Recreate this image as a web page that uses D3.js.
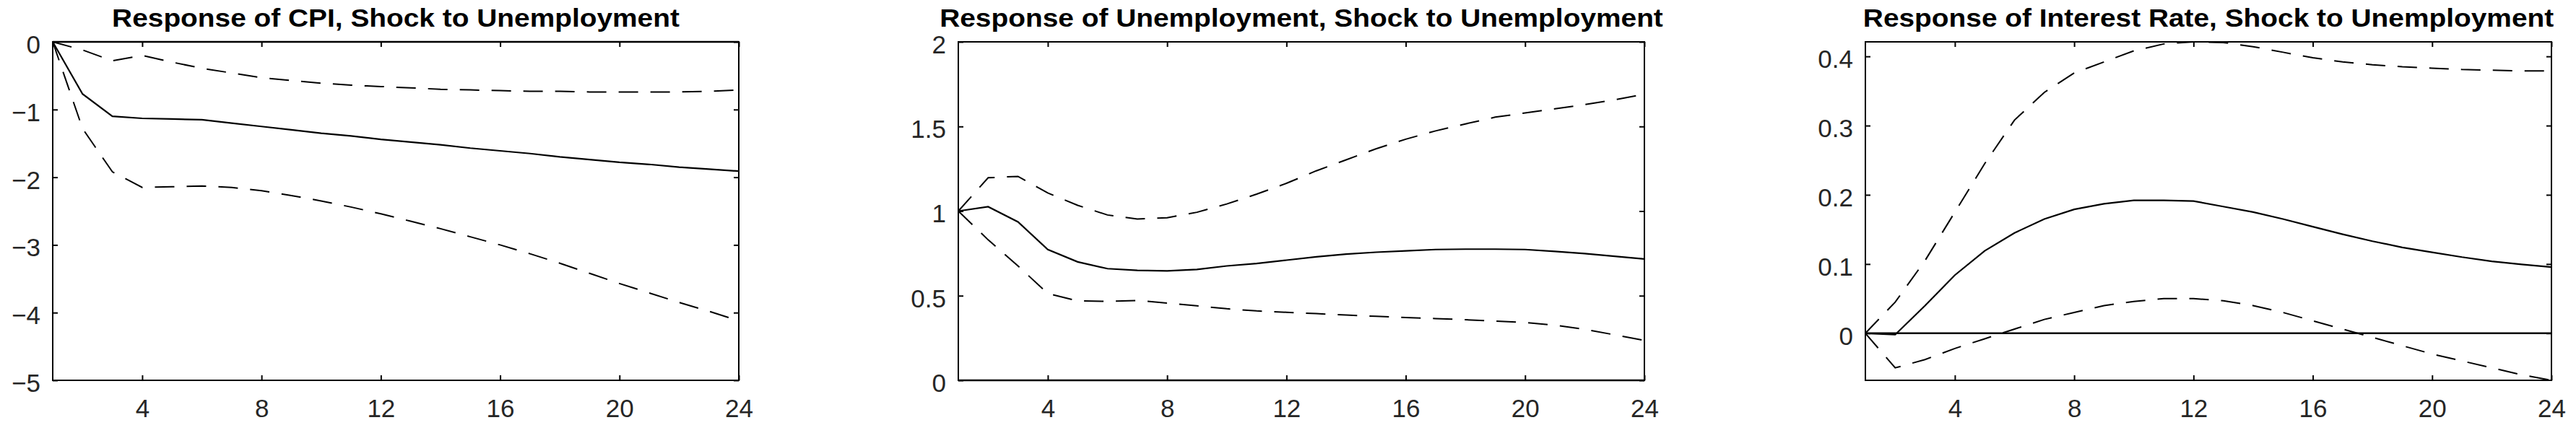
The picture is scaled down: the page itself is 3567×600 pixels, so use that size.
<!DOCTYPE html>
<html>

<head>
    <meta charset="UTF-8">
    <script src="https://d3js.org/d3.v7.min.js"></script>
    <style>
        body { margin: 0; background: #fff; }
        text { font-family: "Liberation Sans", Arial, sans-serif; }
    </style>
</head>

<body>
    <svg></svg>

    <script>
        // horizon (periods after the shock)
        const periods = [1, 2, 3, 4, 5, 6, 7, 8, 9, 10, 11, 12, 13, 14, 15, 16, 17, 18, 19, 20, 21, 22, 23, 24];
        const xTicks = [4, 8, 12, 16, 20, 24];

        const titles = [
            "Response of CPI, Shock to Unemployment",
            "Response of Unemployment, Shock to Unemployment",
            "Response of Interest Rate, Shock to Unemployment"
        ];

        // CPI response
        const cpiResp = [0, -0.77, -1.10, -1.13, -1.14, -1.15, -1.20, -1.25, -1.30, -1.35, -1.39, -1.44, -1.48, -1.52, -1.57, -1.61, -1.65, -1.70, -1.74, -1.78, -1.81, -1.85, -1.88, -1.91];
        const cpiUpper = [0, -0.12, -0.28, -0.20, -0.30, -0.39, -0.46, -0.53, -0.57, -0.61, -0.64, -0.66, -0.68, -0.70, -0.71, -0.72, -0.73, -0.73, -0.74, -0.74, -0.74, -0.74, -0.73, -0.71];
        const cpiLower = [0, -1.28, -1.92, -2.15, -2.14, -2.13, -2.15, -2.20, -2.27, -2.35, -2.44, -2.54, -2.65, -2.76, -2.88, -3.00, -3.13, -3.27, -3.42, -3.57, -3.71, -3.85, -3.98, -4.12];
        const cpiTicks = [0, -1, -2, -3, -4, -5];

        // Unemployment response
        const unResp = [1.0, 1.026, 0.936, 0.773, 0.70, 0.66, 0.65, 0.647, 0.655, 0.676, 0.69, 0.71, 0.73, 0.746, 0.757, 0.765, 0.773, 0.775, 0.775, 0.773, 0.762, 0.749, 0.733, 0.717];
        const unUpper = [1.0, 1.197, 1.205, 1.107, 1.034, 0.977, 0.953, 0.961, 0.993, 1.042, 1.10, 1.164, 1.238, 1.303, 1.368, 1.425, 1.474, 1.515, 1.555, 1.58, 1.604, 1.629, 1.658, 1.69];
        const unLower = [1.0, 0.83, 0.676, 0.513, 0.469, 0.467, 0.472, 0.456, 0.44, 0.423, 0.41, 0.402, 0.394, 0.386, 0.378, 0.371, 0.365, 0.358, 0.35, 0.342, 0.326, 0.301, 0.269, 0.236];
        const unTicks = [0, 0.5, 1, 1.5, 2];

        // Interest rate response
        const rateResp = [0, -0.002, 0.040, 0.084, 0.119, 0.145, 0.165, 0.179, 0.187, 0.192, 0.192, 0.191, 0.183, 0.175, 0.165, 0.154, 0.143, 0.133, 0.124, 0.117, 0.110, 0.104, 0.0995, 0.0955];
        const rateUpper = [0, 0.045, 0.105, 0.175, 0.245, 0.308, 0.348, 0.376, 0.392, 0.408, 0.418, 0.421, 0.420, 0.414, 0.406, 0.398, 0.392, 0.388, 0.385, 0.383, 0.381, 0.380, 0.379, 0.379];
        const rateLower = [0, -0.050, -0.038, -0.022, -0.008, 0.006, 0.020, 0.030, 0.040, 0.046, 0.050, 0.050, 0.047, 0.040, 0.030, 0.018, 0.006, -0.006, -0.018, -0.030, -0.040, -0.050, -0.060, -0.068];
        const rateTicks = [0, 0.1, 0.2, 0.3, 0.4];

        let width = 3567, height = 600;

        let svg = d3.select("svg")
            .attr("width", width)
            .attr("height", height)

        svg.append("rect").attr("width", width).attr("height", height).attr("fill", "#fff");

        const panels = [
            { title: titles[0], resp: cpiResp, upper: cpiUpper, lower: cpiLower, ticks: cpiTicks, domain: [-5, 0] },
            { title: titles[1], resp: unResp, upper: unUpper, lower: unLower, ticks: unTicks, domain: [0, 2] },
            { title: titles[2], resp: rateResp, upper: rateUpper, lower: rateLower, ticks: rateTicks,
              domain: [d3.min(rateLower), d3.max(rateUpper)] }
        ];

        const lefts = [73, 1327, 2583];
        const pw = 950, plotTop = 58, plotBottom = 527;
        const labelColor = "#262626";

        panels.forEach((p, i) => {
            let g = svg.append("g").attr("transform", "translate(" + lefts[i] + "," + plotTop + ")");
            let h = plotBottom - plotTop;

            let x = d3.scaleLinear().domain([1, 24]).range([0, pw]);
            let y = d3.scaleLinear().domain(p.domain).range([h, 0]);

            // ticks, inward on all four sides
            let fmt = d3.format("");
            g.append("g").attr("transform", "translate(0," + h + ")")
                .call(d3.axisBottom(x).tickValues(xTicks).tickSize(-7).tickPadding(26));
            g.append("g")
                .call(d3.axisTop(x).tickValues(xTicks).tickSize(-7).tickFormat(""));
            g.append("g").attr("class", "yleft")
                .call(d3.axisLeft(y).tickValues(p.ticks).tickSize(-7).tickPadding(17).tickFormat(fmt));
            g.append("g").attr("transform", "translate(" + pw + ",0)")
                .call(d3.axisRight(y).tickValues(p.ticks).tickSize(-7).tickFormat(""));

            g.selectAll(".domain").remove();
            g.selectAll(".tick line").attr("stroke", "#000").attr("stroke-width", 2);
            g.selectAll(".tick text")
                .attr("fill", labelColor)
                .style("font-size", "35px");
            g.selectAll(".yleft .tick text").attr("dy", "0.44em");

            // zero line
            g.append("line")
                .attr("x1", 0).attr("x2", pw)
                .attr("y1", y(0)).attr("y2", y(0))
                .attr("stroke", "#000").attr("stroke-width", 2.5);

            let line = d3.line().x((d, j) => x(periods[j])).y(d => y(d));

            g.append("path").datum(p.upper).attr("d", line)
                .attr("fill", "none").attr("stroke", "#000").attr("stroke-width", 2)
                .attr("stroke-dasharray", "27,17");
            g.append("path").datum(p.lower).attr("d", line)
                .attr("fill", "none").attr("stroke", "#000").attr("stroke-width", 2)
                .attr("stroke-dasharray", "27,17");
            g.append("path").datum(p.resp).attr("d", line)
                .attr("fill", "none").attr("stroke", "#000").attr("stroke-width", 2.2);

            // box
            g.append("rect").attr("width", pw).attr("height", h)
                .attr("fill", "none").attr("stroke", "#000").attr("stroke-width", 2);

            // title
            let t = g.append("text")
                .attr("x", pw / 2).attr("y", 37 - plotTop)
                .attr("text-anchor", "middle")
                .style("font-size", "35px")
                .style("font-weight", "bold")
                .attr("fill", "#000")
                .text(p.title);
            let len = t.node().getComputedTextLength();
            t.attr("textLength", len * 1.11).attr("lengthAdjust", "spacingAndGlyphs");
        })
    </script>

</body>

</html>
